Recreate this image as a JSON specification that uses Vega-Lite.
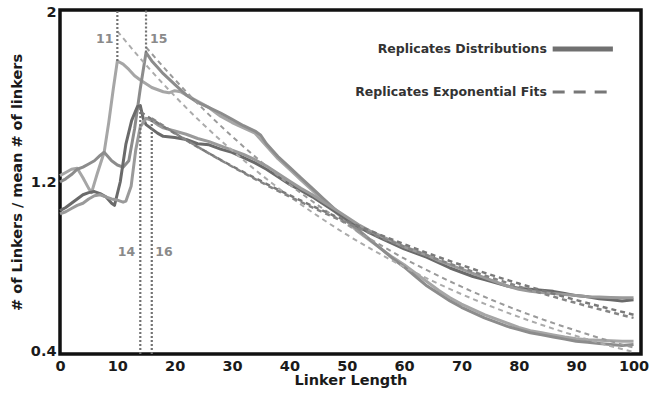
{
  "$schema": "https://vega.github.io/schema/vega-lite/v6.json",
  "width": 581,
  "height": 344,
  "autosize": {"type": "none"},
  "padding": {"left": 60, "top": 10, "right": 16, "bottom": 44},
  "background": "white",
  "config": {
    "view": {"stroke": "#111", "strokeWidth": 3.5},
    "font": "DejaVu Sans",
    "axis": {"grid": false, "domain": false, "ticks": false, "labelFont": "DejaVu Sans", "labelFontWeight": "bold", "labelFontSize": 14.5, "labelColor": "#1a1a1a", "titleFont": "DejaVu Sans", "titleFontWeight": "bold", "titleFontSize": 14.5, "titleColor": "#1a1a1a", "labelFlush": false}
  },
  "datasets": {
    "curves": [
      {"s":"A","x":0,"y":1.23},{"s":"A","x":1,"y":1.245},{"s":"A","x":2,"y":1.26},{"s":"A","x":3,"y":1.265},{"s":"A","x":4,"y":1.22},{"s":"A","x":5,"y":1.17},{"s":"A","x":5.5,"y":1.15},{"s":"A","x":6.5,"y":1.24},{"s":"A","x":7.7,"y":1.34},{"s":"A","x":8.5,"y":1.48},{"s":"A","x":9.3,"y":1.64},{"s":"A","x":10,"y":1.77},{"s":"A","x":11,"y":1.755},{"s":"A","x":12,"y":1.73},{"s":"A","x":13,"y":1.70},{"s":"A","x":14,"y":1.68},{"s":"A","x":16,"y":1.645},{"s":"A","x":18,"y":1.625},{"s":"A","x":19,"y":1.62},{"s":"A","x":20,"y":1.63},{"s":"A","x":21,"y":1.625},{"s":"A","x":22,"y":1.61},{"s":"A","x":24,"y":1.58},{"s":"A","x":26,"y":1.55},{"s":"A","x":28,"y":1.51},{"s":"A","x":30,"y":1.48},{"s":"A","x":32,"y":1.455},{"s":"A","x":34,"y":1.43},{"s":"A","x":36,"y":1.37},{"s":"A","x":38,"y":1.31},{"s":"A","x":40,"y":1.26},{"s":"A","x":42,"y":1.21},{"s":"A","x":44,"y":1.16},{"s":"A","x":46,"y":1.11},{"s":"A","x":48,"y":1.06},{"s":"A","x":50,"y":1.015},{"s":"A","x":52,"y":0.965},{"s":"A","x":54,"y":0.925},{"s":"A","x":56,"y":0.885},{"s":"A","x":58,"y":0.845},{"s":"A","x":60,"y":0.81},{"s":"A","x":62,"y":0.77},{"s":"A","x":64,"y":0.73},{"s":"A","x":66,"y":0.69},{"s":"A","x":68,"y":0.655},{"s":"A","x":70,"y":0.625},{"s":"A","x":72,"y":0.60},{"s":"A","x":74,"y":0.575},{"s":"A","x":76,"y":0.555},{"s":"A","x":78,"y":0.535},{"s":"A","x":80,"y":0.515},{"s":"A","x":82,"y":0.50},{"s":"A","x":84,"y":0.49},{"s":"A","x":86,"y":0.48},{"s":"A","x":88,"y":0.47},{"s":"A","x":90,"y":0.462},{"s":"A","x":92,"y":0.457},{"s":"A","x":94,"y":0.455},{"s":"A","x":96,"y":0.452},{"s":"A","x":98,"y":0.45},{"s":"A","x":100,"y":0.45},
      {"s":"B","x":0,"y":1.20},{"s":"B","x":1,"y":1.215},{"s":"B","x":2,"y":1.235},{"s":"B","x":3,"y":1.26},{"s":"B","x":4,"y":1.27},{"s":"B","x":5,"y":1.285},{"s":"B","x":6,"y":1.30},{"s":"B","x":7,"y":1.325},{"s":"B","x":7.7,"y":1.34},{"s":"B","x":9,"y":1.30},{"s":"B","x":10,"y":1.28},{"s":"B","x":11,"y":1.27},{"s":"B","x":12,"y":1.30},{"s":"B","x":13,"y":1.45},{"s":"B","x":14,"y":1.64},{"s":"B","x":15,"y":1.81},{"s":"B","x":16,"y":1.77},{"s":"B","x":17,"y":1.74},{"s":"B","x":18,"y":1.71},{"s":"B","x":20,"y":1.66},{"s":"B","x":22,"y":1.61},{"s":"B","x":24,"y":1.575},{"s":"B","x":26,"y":1.55},{"s":"B","x":28,"y":1.525},{"s":"B","x":30,"y":1.495},{"s":"B","x":32,"y":1.465},{"s":"B","x":34,"y":1.44},{"s":"B","x":35,"y":1.42},{"s":"B","x":36,"y":1.38},{"s":"B","x":38,"y":1.32},{"s":"B","x":40,"y":1.27},{"s":"B","x":42,"y":1.22},{"s":"B","x":44,"y":1.17},{"s":"B","x":46,"y":1.12},{"s":"B","x":48,"y":1.07},{"s":"B","x":50,"y":1.02},{"s":"B","x":52,"y":0.975},{"s":"B","x":54,"y":0.93},{"s":"B","x":56,"y":0.885},{"s":"B","x":58,"y":0.84},{"s":"B","x":60,"y":0.80},{"s":"B","x":62,"y":0.755},{"s":"B","x":64,"y":0.71},{"s":"B","x":66,"y":0.675},{"s":"B","x":68,"y":0.64},{"s":"B","x":70,"y":0.61},{"s":"B","x":72,"y":0.585},{"s":"B","x":74,"y":0.56},{"s":"B","x":76,"y":0.54},{"s":"B","x":78,"y":0.52},{"s":"B","x":80,"y":0.505},{"s":"B","x":82,"y":0.49},{"s":"B","x":84,"y":0.48},{"s":"B","x":86,"y":0.47},{"s":"B","x":88,"y":0.46},{"s":"B","x":90,"y":0.45},{"s":"B","x":92,"y":0.445},{"s":"B","x":94,"y":0.44},{"s":"B","x":96,"y":0.435},{"s":"B","x":98,"y":0.43},{"s":"B","x":100,"y":0.435},
      {"s":"C","x":0,"y":1.065},{"s":"C","x":1,"y":1.08},{"s":"C","x":2,"y":1.10},{"s":"C","x":3,"y":1.12},{"s":"C","x":4,"y":1.14},{"s":"C","x":5,"y":1.15},{"s":"C","x":6,"y":1.155},{"s":"C","x":7,"y":1.145},{"s":"C","x":8,"y":1.13},{"s":"C","x":9,"y":1.10},{"s":"C","x":9.5,"y":1.09},{"s":"C","x":10.5,"y":1.20},{"s":"C","x":11.5,"y":1.38},{"s":"C","x":12.5,"y":1.49},{"s":"C","x":13.5,"y":1.555},{"s":"C","x":14,"y":1.56},{"s":"C","x":14.5,"y":1.50},{"s":"C","x":15,"y":1.47},{"s":"C","x":16,"y":1.45},{"s":"C","x":17,"y":1.43},{"s":"C","x":18,"y":1.415},{"s":"C","x":20,"y":1.41},{"s":"C","x":22,"y":1.40},{"s":"C","x":24,"y":1.38},{"s":"C","x":26,"y":1.375},{"s":"C","x":28,"y":1.355},{"s":"C","x":30,"y":1.34},{"s":"C","x":32,"y":1.315},{"s":"C","x":34,"y":1.29},{"s":"C","x":36,"y":1.26},{"s":"C","x":38,"y":1.225},{"s":"C","x":40,"y":1.19},{"s":"C","x":42,"y":1.16},{"s":"C","x":44,"y":1.13},{"s":"C","x":46,"y":1.095},{"s":"C","x":48,"y":1.06},{"s":"C","x":50,"y":1.025},{"s":"C","x":52,"y":0.99},{"s":"C","x":54,"y":0.96},{"s":"C","x":56,"y":0.935},{"s":"C","x":58,"y":0.91},{"s":"C","x":60,"y":0.885},{"s":"C","x":62,"y":0.865},{"s":"C","x":64,"y":0.845},{"s":"C","x":66,"y":0.82},{"s":"C","x":68,"y":0.795},{"s":"C","x":70,"y":0.775},{"s":"C","x":72,"y":0.755},{"s":"C","x":74,"y":0.74},{"s":"C","x":76,"y":0.725},{"s":"C","x":78,"y":0.71},{"s":"C","x":80,"y":0.70},{"s":"C","x":82,"y":0.695},{"s":"C","x":84,"y":0.69},{"s":"C","x":86,"y":0.685},{"s":"C","x":88,"y":0.675},{"s":"C","x":90,"y":0.665},{"s":"C","x":92,"y":0.66},{"s":"C","x":94,"y":0.65},{"s":"C","x":96,"y":0.645},{"s":"C","x":98,"y":0.64},{"s":"C","x":100,"y":0.645},
      {"s":"D","x":0,"y":1.05},{"s":"D","x":1,"y":1.06},{"s":"D","x":2,"y":1.075},{"s":"D","x":3,"y":1.09},{"s":"D","x":4,"y":1.10},{"s":"D","x":5,"y":1.12},{"s":"D","x":6,"y":1.135},{"s":"D","x":7,"y":1.14},{"s":"D","x":8,"y":1.13},{"s":"D","x":9,"y":1.12},{"s":"D","x":10,"y":1.115},{"s":"D","x":11,"y":1.105},{"s":"D","x":11.5,"y":1.11},{"s":"D","x":12.4,"y":1.18},{"s":"D","x":13.2,"y":1.35},{"s":"D","x":14,"y":1.46},{"s":"D","x":15,"y":1.50},{"s":"D","x":16,"y":1.49},{"s":"D","x":17,"y":1.47},{"s":"D","x":18,"y":1.455},{"s":"D","x":20,"y":1.44},{"s":"D","x":22,"y":1.425},{"s":"D","x":24,"y":1.405},{"s":"D","x":26,"y":1.39},{"s":"D","x":28,"y":1.37},{"s":"D","x":30,"y":1.35},{"s":"D","x":32,"y":1.33},{"s":"D","x":34,"y":1.305},{"s":"D","x":36,"y":1.275},{"s":"D","x":38,"y":1.24},{"s":"D","x":40,"y":1.205},{"s":"D","x":42,"y":1.17},{"s":"D","x":44,"y":1.14},{"s":"D","x":46,"y":1.105},{"s":"D","x":48,"y":1.07},{"s":"D","x":50,"y":1.035},{"s":"D","x":52,"y":1.00},{"s":"D","x":54,"y":0.97},{"s":"D","x":56,"y":0.945},{"s":"D","x":58,"y":0.92},{"s":"D","x":60,"y":0.895},{"s":"D","x":62,"y":0.875},{"s":"D","x":64,"y":0.855},{"s":"D","x":66,"y":0.83},{"s":"D","x":68,"y":0.81},{"s":"D","x":70,"y":0.79},{"s":"D","x":72,"y":0.77},{"s":"D","x":74,"y":0.75},{"s":"D","x":76,"y":0.73},{"s":"D","x":78,"y":0.71},{"s":"D","x":80,"y":0.695},{"s":"D","x":82,"y":0.685},{"s":"D","x":84,"y":0.68},{"s":"D","x":86,"y":0.675},{"s":"D","x":88,"y":0.67},{"s":"D","x":90,"y":0.665},{"s":"D","x":92,"y":0.66},{"s":"D","x":94,"y":0.658},{"s":"D","x":96,"y":0.656},{"s":"D","x":98,"y":0.655},{"s":"D","x":100,"y":0.655}
    ],
    "fitsLight": [
      {"s":"fA","x":10,"y":1.910},{"s":"fA","x":15,"y":1.751},{"s":"fA","x":20,"y":1.605},{"s":"fA","x":25,"y":1.471},{"s":"fA","x":30,"y":1.349},{"s":"fA","x":35,"y":1.236},{"s":"fA","x":40,"y":1.133},{"s":"fA","x":45,"y":1.039},{"s":"fA","x":50,"y":0.952},{"s":"fA","x":55,"y":0.873},{"s":"fA","x":60,"y":0.800},{"s":"fA","x":65,"y":0.733},{"s":"fA","x":70,"y":0.672},{"s":"fA","x":75,"y":0.616},{"s":"fA","x":80,"y":0.565},{"s":"fA","x":85,"y":0.518},{"s":"fA","x":90,"y":0.475},{"s":"fA","x":95,"y":0.435},{"s":"fA","x":100,"y":0.399},
      {"s":"fB","x":15,"y":1.835},{"s":"fB","x":20,"y":1.683},{"s":"fB","x":25,"y":1.543},{"s":"fB","x":30,"y":1.415},{"s":"fB","x":35,"y":1.297},{"s":"fB","x":40,"y":1.189},{"s":"fB","x":45,"y":1.090},{"s":"fB","x":50,"y":1.000},{"s":"fB","x":55,"y":0.917},{"s":"fB","x":60,"y":0.840},{"s":"fB","x":65,"y":0.771},{"s":"fB","x":70,"y":0.707},{"s":"fB","x":75,"y":0.648},{"s":"fB","x":80,"y":0.594},{"s":"fB","x":85,"y":0.545},{"s":"fB","x":90,"y":0.500},{"s":"fB","x":95,"y":0.458},{"s":"fB","x":100,"y":0.420}
    ],
    "fitsDark": [
      {"s":"fC","x":14,"y":1.530},{"s":"fC","x":20,"y":1.429},{"s":"fC","x":25,"y":1.350},{"s":"fC","x":30,"y":1.275},{"s":"fC","x":35,"y":1.205},{"s":"fC","x":40,"y":1.138},{"s":"fC","x":45,"y":1.075},{"s":"fC","x":50,"y":1.016},{"s":"fC","x":55,"y":0.960},{"s":"fC","x":60,"y":0.907},{"s":"fC","x":65,"y":0.856},{"s":"fC","x":70,"y":0.809},{"s":"fC","x":75,"y":0.764},{"s":"fC","x":80,"y":0.722},{"s":"fC","x":85,"y":0.682},{"s":"fC","x":90,"y":0.644},{"s":"fC","x":95,"y":0.609},{"s":"fC","x":100,"y":0.575},
      {"s":"fD","x":16,"y":1.500},{"s":"fD","x":20,"y":1.431},{"s":"fD","x":25,"y":1.350},{"s":"fD","x":30,"y":1.273},{"s":"fD","x":35,"y":1.200},{"s":"fD","x":40,"y":1.132},{"s":"fD","x":45,"y":1.068},{"s":"fD","x":50,"y":1.007},{"s":"fD","x":55,"y":0.949},{"s":"fD","x":60,"y":0.895},{"s":"fD","x":65,"y":0.844},{"s":"fD","x":70,"y":0.796},{"s":"fD","x":75,"y":0.751},{"s":"fD","x":80,"y":0.708},{"s":"fD","x":85,"y":0.668},{"s":"fD","x":90,"y":0.630},{"s":"fD","x":95,"y":0.594},{"s":"fD","x":100,"y":0.560}
    ],
    "vrules": [
      {"x":10,"y":1.77,"y2":2.01},
      {"x":15,"y":1.81,"y2":2.01},
      {"x":14,"y":0.39,"y2":1.56},
      {"x":16,"y":0.39,"y2":1.49}
    ],
    "labelsRight": [
      {"x":9.3,"y":1.873,"t":"11"},
      {"x":13.1,"y":0.87,"t":"14"}
    ],
    "labelsLeft": [
      {"x":15.7,"y":1.873,"t":"15"},
      {"x":16.6,"y":0.87,"t":"16"}
    ],
    "legendText": [
      {"x":84.9,"y":1.826,"t":"Replicates Distributions"},
      {"x":84.9,"y":1.624,"t":"Replicates Exponential Fits"}
    ],
    "legendSolid": [{"x":85.9,"x2":96.4,"y":1.826}],
    "legendDashed": [{"x":85.9,"x2":96.4,"y":1.624}]
  },
  "layer": [
    {
      "data": {"name": "curves"},
      "mark": {"type": "line", "strokeWidth": 3, "strokeJoin": "round"},
      "encoding": {
        "x": {"field": "x", "type": "quantitative", "scale": {"domain": [0, 101.3], "nice": false, "zero": false}, "axis": {"title": "Linker Length", "values": [0,10,20,30,40,50,60,70,80,90,100], "labelPadding": 5, "titlePadding": 1}},
        "y": {"field": "y", "type": "quantitative", "scale": {"domain": [0.39, 2.01], "nice": false, "zero": false}, "axis": {"title": "# of Linkers / mean # of linkers", "values": [0.4, 1.2, 2], "format": "~g", "labelPadding": 4, "titlePadding": 6}},
        "color": {"field": "s", "type": "nominal", "scale": {"domain": ["A","B","C","D"], "range": ["#a6a6a6", "#8c8c8c", "#6a6a6a", "#9a9a9a"]}, "legend": null},
        "order": {"field": "x", "type": "quantitative"}
      }
    },
    {
      "data": {"name": "fitsLight"},
      "mark": {"type": "line", "strokeWidth": 2, "strokeDash": [5, 4], "interpolate": "monotone"},
      "encoding": {
        "x": {"field": "x", "type": "quantitative"},
        "y": {"field": "y", "type": "quantitative"},
        "color": {"field": "s", "type": "nominal", "scale": {"domain": ["fA","fB"], "range": ["#ababab", "#9a9a9a"]}, "legend": null}
      }
    },
    {
      "data": {"name": "fitsDark"},
      "mark": {"type": "line", "strokeWidth": 2.5, "strokeDash": [5, 4], "interpolate": "monotone"},
      "encoding": {
        "x": {"field": "x", "type": "quantitative"},
        "y": {"field": "y", "type": "quantitative"},
        "color": {"field": "s", "type": "nominal", "scale": {"domain": ["fC","fD"], "range": ["#7a7a7a", "#858585"]}, "legend": null}
      }
    },
    {
      "data": {"name": "vrules"},
      "mark": {"type": "rule", "strokeWidth": 2.2, "strokeDash": [2, 2], "color": "#727272"},
      "encoding": {
        "x": {"field": "x", "type": "quantitative"},
        "y": {"field": "y", "type": "quantitative"},
        "y2": {"field": "y2"}
      }
    },
    {
      "data": {"name": "labelsRight"},
      "mark": {"type": "text", "align": "right", "baseline": "middle", "font": "DejaVu Sans", "fontWeight": "bold", "fontSize": 12.5, "color": "#8a8a8a"},
      "encoding": {
        "x": {"field": "x", "type": "quantitative"},
        "y": {"field": "y", "type": "quantitative"},
        "text": {"field": "t"}
      }
    },
    {
      "data": {"name": "labelsLeft"},
      "mark": {"type": "text", "align": "left", "baseline": "middle", "font": "DejaVu Sans", "fontWeight": "bold", "fontSize": 12.5, "color": "#8a8a8a"},
      "encoding": {
        "x": {"field": "x", "type": "quantitative"},
        "y": {"field": "y", "type": "quantitative"},
        "text": {"field": "t"}
      }
    },
    {
      "data": {"name": "legendText"},
      "mark": {"type": "text", "align": "right", "baseline": "middle", "font": "DejaVu Sans", "fontWeight": "bold", "fontSize": 12.5, "color": "#333333"},
      "encoding": {
        "x": {"field": "x", "type": "quantitative"},
        "y": {"field": "y", "type": "quantitative"},
        "text": {"field": "t"}
      }
    },
    {
      "data": {"name": "legendSolid"},
      "mark": {"type": "rule", "strokeWidth": 5, "color": "#707070"},
      "encoding": {
        "x": {"field": "x", "type": "quantitative"},
        "x2": {"field": "x2"},
        "y": {"field": "y", "type": "quantitative"}
      }
    },
    {
      "data": {"name": "legendDashed"},
      "mark": {"type": "rule", "strokeWidth": 3, "strokeDash": [12, 9], "color": "#777777"},
      "encoding": {
        "x": {"field": "x", "type": "quantitative"},
        "x2": {"field": "x2"},
        "y": {"field": "y", "type": "quantitative"}
      }
    }
  ],
  "resolve": {"scale": {"color": "independent"}}
}
